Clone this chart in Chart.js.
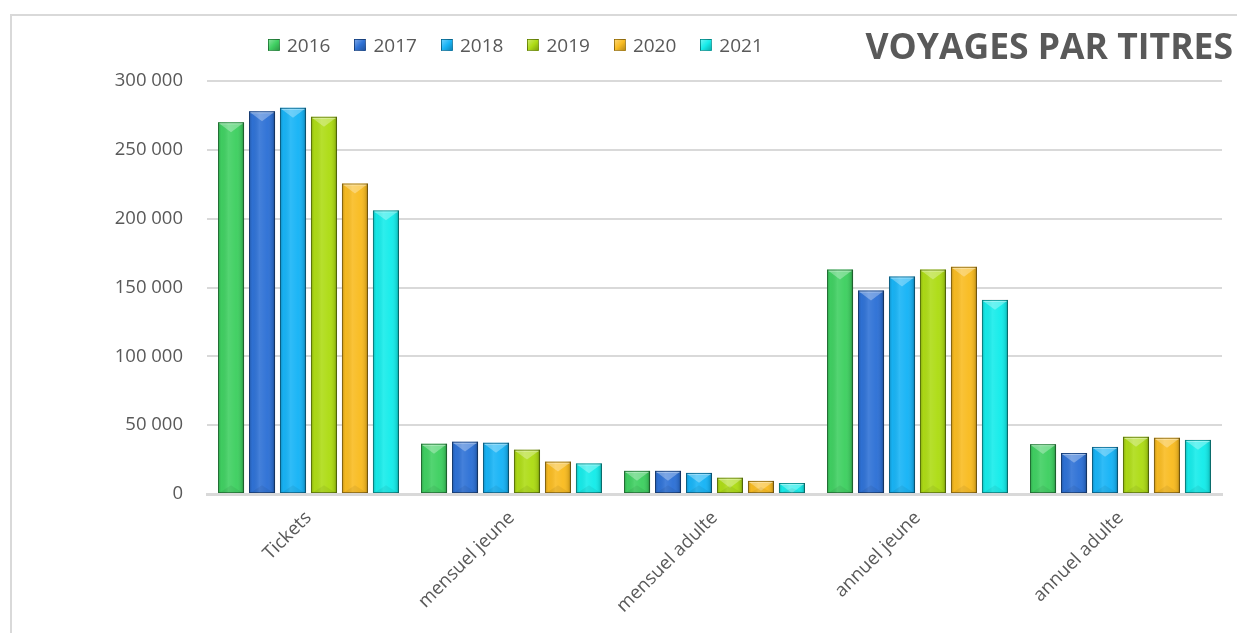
<!DOCTYPE html>
<html lang="fr">
<head>
<meta charset="utf-8">
<title>Voyages par titres</title>
<script src="https://cdn.jsdelivr.net/npm/chart.js@4.4.1/dist/chart.umd.min.js"></script>
<style>
  html, body { margin: 0; padding: 0; background: #fff; overflow: hidden; }
  body { width: 1237px; height: 633px; position: relative; font-family: "Open Sans", sans-serif; }
  #frame { position: absolute; left: 10px; top: 14px; width: 1300px; height: 700px; border: 2px solid #d9d9d9; }
  #chart { position: absolute; left: 0; top: 0; }
  #title { position: absolute; right: 4px; top: 27px; font-size: 35.5px; font-weight: bold; color: #595959; line-height: 36px; white-space: nowrap; }
  #legend { position: absolute; left: 268px; top: 31px; display: flex; gap: 24px; color: #595959; font-size: 19px; line-height: 28px; }
  #legend .item { display: flex; align-items: center; }
  #legend .box { width: 12px; height: 12px; margin-right: 7px; box-sizing: border-box; border: 1px solid rgba(0,0,0,0.3); }
</style>
</head>
<body>
<div id="frame"></div>
<canvas id="chart" width="1237" height="633"></canvas>
<div id="title">VOYAGES PAR TITRES</div>
<div id="legend"></div>
<script>
// données
const categories = ['Tickets', 'mensuel jeune', 'mensuel adulte', 'annuel jeune', 'annuel adulte'];
const years = ['2016', '2017', '2018', '2019', '2020', '2021'];
const v2016 = [270000, 36500, 16800, 163000, 36200];
const v2017 = [278000, 38000, 16800, 147800, 29800];
const v2018 = [280500, 37200, 15300, 158000, 34200];
const v2019 = [274000, 32200, 11800, 163000, 41500];
const v2020 = [225500, 23500, 9500, 165000, 40800];
const v2021 = [206000, 22200, 8000, 141000, 39300];
const yMax = 300000;
const yStep = 50000;

const colors = ['#40d062', '#2f72d6', '#18b4f6', '#aedc16', '#f9bc22', '#16ecea'];
const series = [v2016, v2017, v2018, v2019, v2020, v2021];

function formatNumber(v) {
  return String(v).replace(/\B(?=(\d{3})+(?!\d))/g, ' ');
}

// legende en html
const legend = document.getElementById('legend');
years.forEach((y, i) => {
  const item = document.createElement('div');
  item.className = 'item';
  item.innerHTML = `<span class="box" style="background: linear-gradient(135deg, rgba(255,255,255,0.35), rgba(255,255,255,0) 50%, rgba(0,0,0,0.25)), ${colors[i]}"></span>${y}`;
  legend.appendChild(item);
});

// effet biseau sur les barres
const bevelBars = {
  id: 'bevelBars',
  afterDatasetsDraw(chart) {
    const ctx = chart.ctx;
    ctx.save();
    chart.data.datasets.forEach((ds, di) => {
      const meta = chart.getDatasetMeta(di);
      meta.data.forEach(bar => {
        const { x, y, base, width } = bar.getProps(['x', 'y', 'base', 'width'], true);
        const left = x - width / 2;
        const right = x + width / 2;
        const h = base - y;
        if (h <= 0) return;

        // reflet horizontal
        const g = ctx.createLinearGradient(left, 0, right, 0);
        g.addColorStop(0, 'rgba(0,0,0,0.22)');
        g.addColorStop(0.12, 'rgba(0,0,0,0.02)');
        g.addColorStop(0.4, 'rgba(255,255,255,0.10)');
        g.addColorStop(0.7, 'rgba(255,255,255,0.02)');
        g.addColorStop(0.9, 'rgba(0,0,0,0.10)');
        g.addColorStop(1, 'rgba(0,0,0,0.35)');
        ctx.fillStyle = g;
        ctx.fillRect(left, y, width, h);

        // triangle du haut
        const d = Math.min(width * 0.38, h);
        ctx.beginPath();
        ctx.moveTo(left + 1, y + 1);
        ctx.lineTo(right - 1, y + 1);
        ctx.lineTo(x, y + d);
        ctx.closePath();
        ctx.fillStyle = 'rgba(255,255,255,0.3)';
        ctx.fill();

        // arete bas
        const db = Math.min(width * 0.3, h / 2);
        ctx.beginPath();
        ctx.moveTo(left + 1, base);
        ctx.lineTo(right - 1, base);
        ctx.lineTo(x, base - db);
        ctx.closePath();
        ctx.fillStyle = 'rgba(0,0,0,0.06)';
        ctx.fill();

        // contour
        ctx.strokeStyle = 'rgba(0,0,0,0.35)';
        ctx.lineWidth = 1;
        ctx.strokeRect(left + 0.5, y + 0.5, width - 1, h - 1);
        ctx.strokeStyle = 'rgba(255,255,255,0.35)';
        ctx.beginPath();
        ctx.moveTo(left + 1.5, y + 1.5);
        ctx.lineTo(right - 1.5, y + 1.5);
        ctx.stroke();
      });
    });
    ctx.restore();
  }
};

const ctx = document.getElementById('chart').getContext('2d');
new Chart(ctx, {
  type: 'bar',
  data: {
    labels: categories,
    datasets: series.map((data, i) => ({
      label: years[i],
      data: data,
      backgroundColor: colors[i],
      borderWidth: 0,
      categoryPercentage: 0.916,
      barPercentage: 0.84
    }))
  },
  options: {
    responsive: false,
    animation: false,
    devicePixelRatio: 1,
    layout: { padding: { left: 97, right: 15, top: 81, bottom: 21 } },
    plugins: {
      legend: { display: false },
      title: { display: false },
      tooltip: { enabled: false }
    },
    scales: {
      x: {
        grid: { display: false, drawTicks: false },
        border: { display: true, color: '#d9d9d9', width: 3 },
        ticks: {
          color: '#595959',
          font: { family: 'Open Sans', size: 18.5 },
          minRotation: 45,
          maxRotation: 45,
          padding: 13
        },
        afterFit(s) { s.height = 118; }
      },
      y: {
        min: 0,
        max: yMax,
        grid: { color: '#d9d9d9', lineWidth: 2, drawTicks: false },
        border: { display: false },
        ticks: {
          stepSize: yStep,
          color: '#595959',
          font: { family: 'Open Sans', size: 18.5 },
          padding: 24,
          callback: v => formatNumber(v)
        },
        afterFit(s) { s.width = 110; }
      }
    }
  },
  plugins: [bevelBars]
});
</script>
</body>
</html>
